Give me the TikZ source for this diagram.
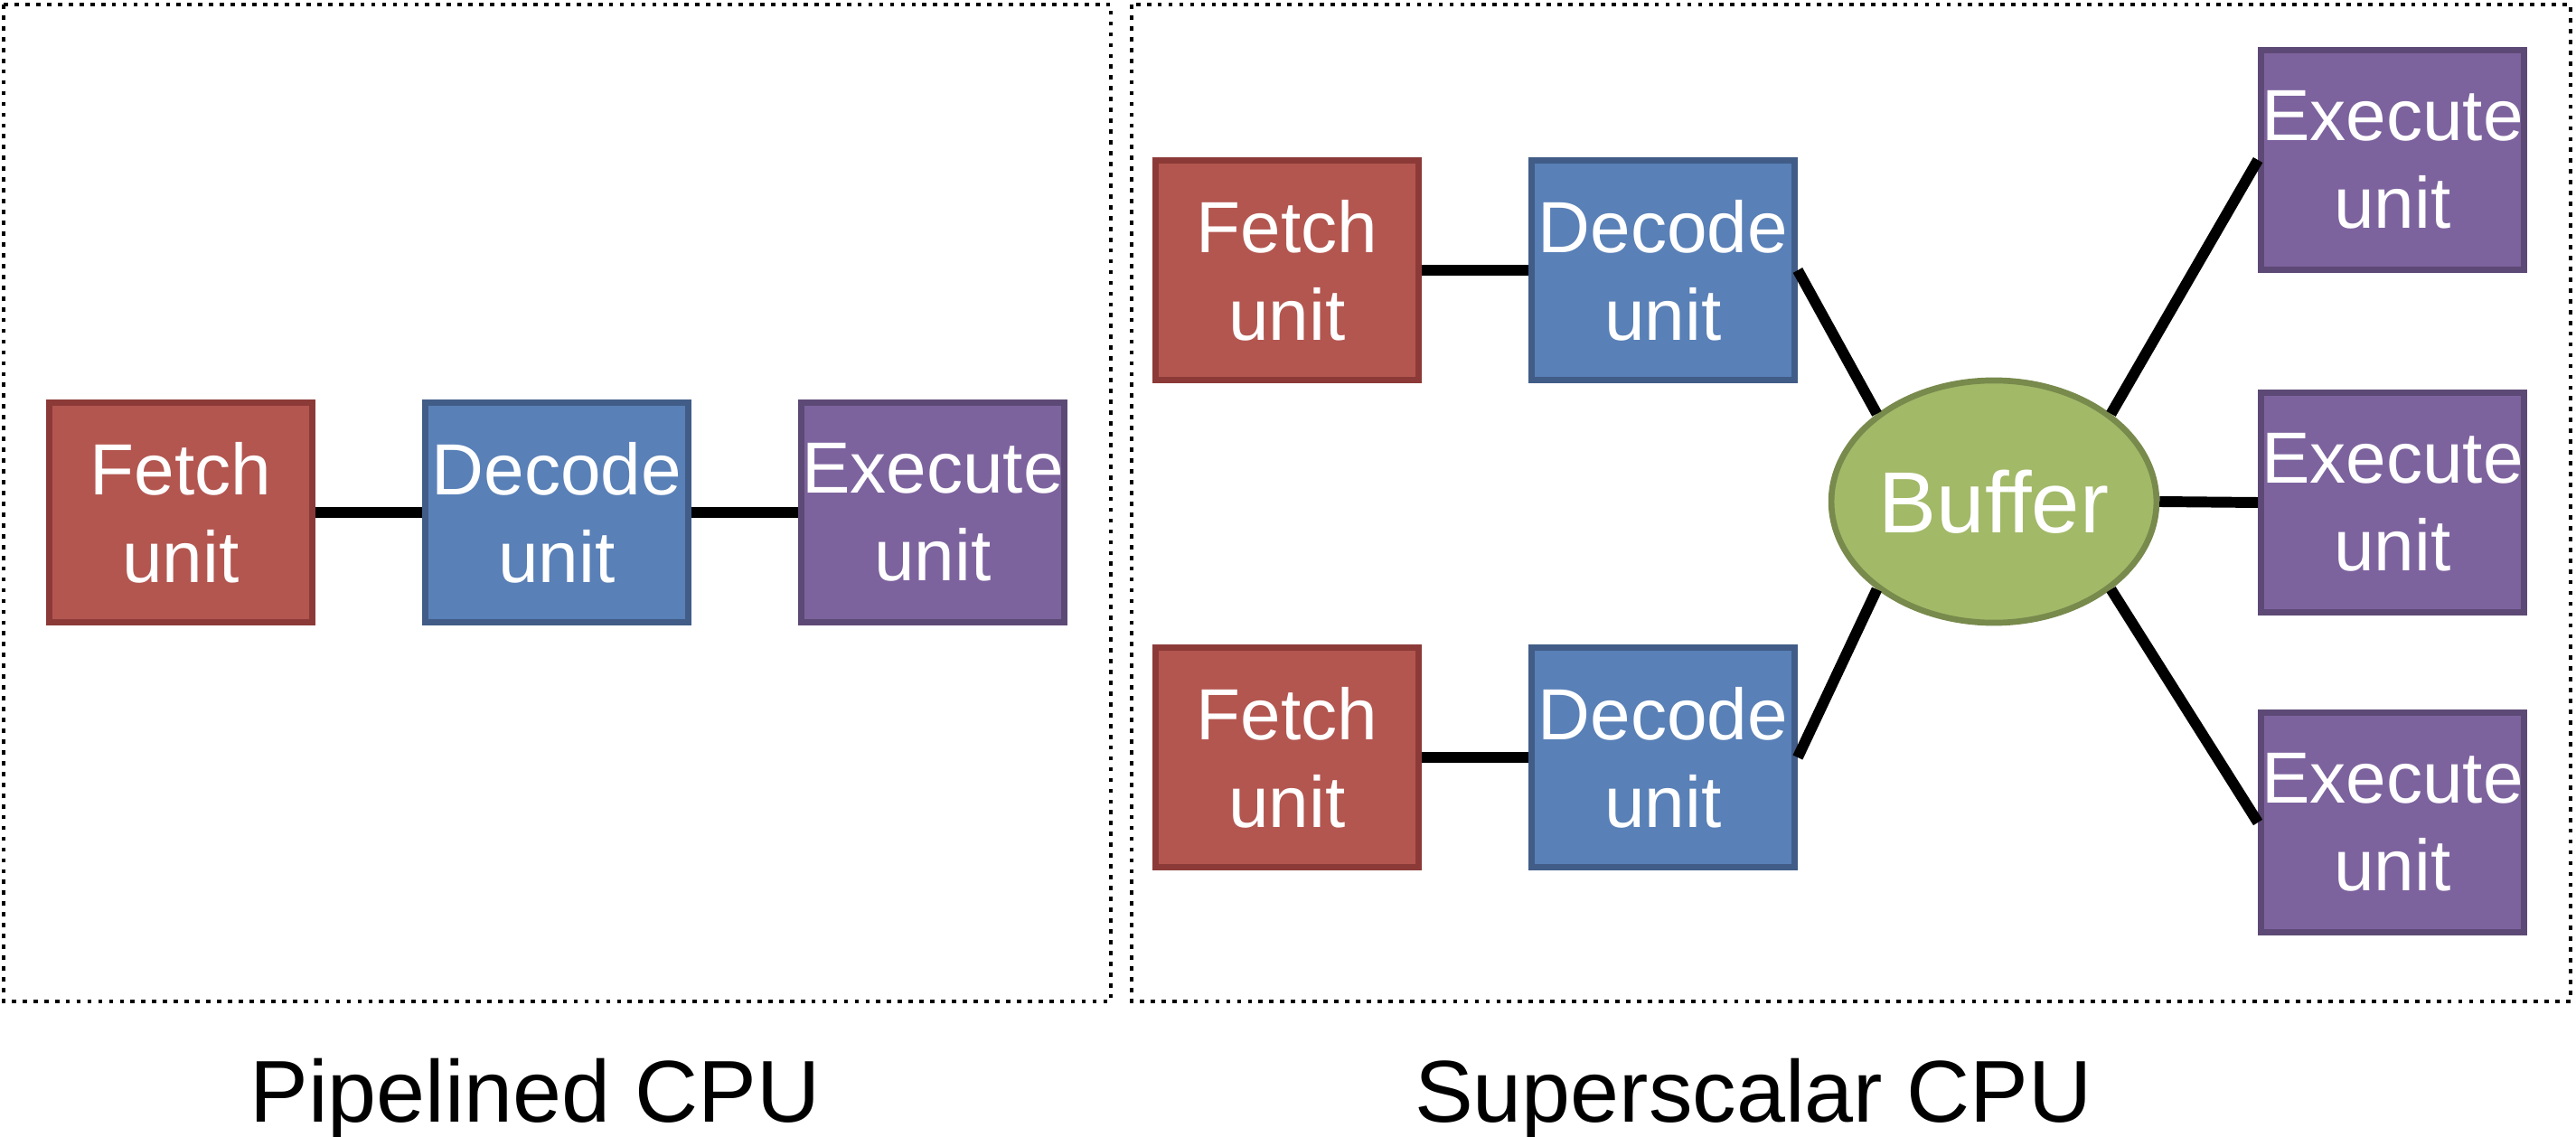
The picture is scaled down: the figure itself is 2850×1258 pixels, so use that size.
\documentclass[tikz,border=0pt]{standalone}
\usepackage{fontspec}
\setmainfont{Liberation Sans}
\usetikzlibrary{shapes.geometric}
\definecolor{fetchfill}{HTML}{B35650}
\definecolor{fetchdraw}{HTML}{8C3A38}
\definecolor{decfill}{HTML}{5980B7}
\definecolor{decdraw}{HTML}{415C87}
\definecolor{exefill}{HTML}{7D639E}
\definecolor{exedraw}{HTML}{5D4975}
\definecolor{buffill}{HTML}{A2B968}
\definecolor{bufdraw}{HTML}{788A4C}
\tikzset{
  unitbox/.style={rectangle, minimum width=2.91cm, minimum height=2.43cm, inner sep=0pt,
    line width=1.9pt, align=center, text=white,
    font=\fontsize{22.8}{27.6}\selectfont},
  fetchbox/.style={unitbox, fill=fetchfill, draw=fetchdraw},
  decbox/.style={unitbox, fill=decfill, draw=decdraw},
  exebox/.style={unitbox, fill=exefill, draw=exedraw},
  bufnode/.style={ellipse, minimum width=3.42cm, minimum height=2.68cm, inner sep=0pt,
    line width=1.9pt, fill=buffill, draw=bufdraw, text=white,
    font=\fontsize{27.3}{32}\selectfont},
  wire/.style={line width=3.4pt, black},
  frame/.style={line width=1.35pt, dash pattern=on 1.35pt off 2.05pt},
  caption/.style={anchor=base, inner sep=0pt, font=\fontsize{27.6}{33}\selectfont}
}
\begin{document}
\begin{tikzpicture}[x=0.01cm, y=-0.01cm]
\useasboundingbox (0,0) rectangle (2850,1258);
% frames
\draw[frame] (4,5) rectangle (1229,1108);
\draw[frame] (1252,5) rectangle (2844,1108);
% pipelined
\node[fetchbox] (pf) at (200,567) {Fetch\\unit};
\node[decbox] (pd) at (616,567) {Decode\\unit};
\node[exebox] (pe) at (1032,567) {Execute\\unit};
\draw[wire] (pf.east) -- (pd.west);
\draw[wire] (pd.east) -- (pe.west);
% superscalar
\node[fetchbox] (sf1) at (1424,299) {Fetch\\unit};
\node[decbox] (sd1) at (1840,299) {Decode\\unit};
\node[fetchbox] (sf2) at (1424,838) {Fetch\\unit};
\node[decbox] (sd2) at (1840,838) {Decode\\unit};
\node[bufnode] (buf) at (2206,555) {Buffer};
\node[exebox] (se1) at (2647,177) {Execute\\unit};
\node[exebox] (se2) at (2647,556) {Execute\\unit};
\node[exebox] (se3) at (2647,910) {Execute\\unit};
\draw[wire] (sf1.east) -- (sd1.west);
\draw[wire] (sf2.east) -- (sd2.west);
\draw[wire] (sd1.east) -- (buf.north west);
\draw[wire] (sd2.east) -- (buf.south west);
\draw[wire] (buf.north east) -- (se1.west);
\draw[wire] (buf.east) -- (se2.west);
\draw[wire] (buf.south east) -- (se3.west);
% captions
\node[caption] (cap1) at (592,1241) {Pipelined CPU};
\node[caption] (cap2) at (1940,1241) {Superscalar CPU};
\end{tikzpicture}
\end{document}
